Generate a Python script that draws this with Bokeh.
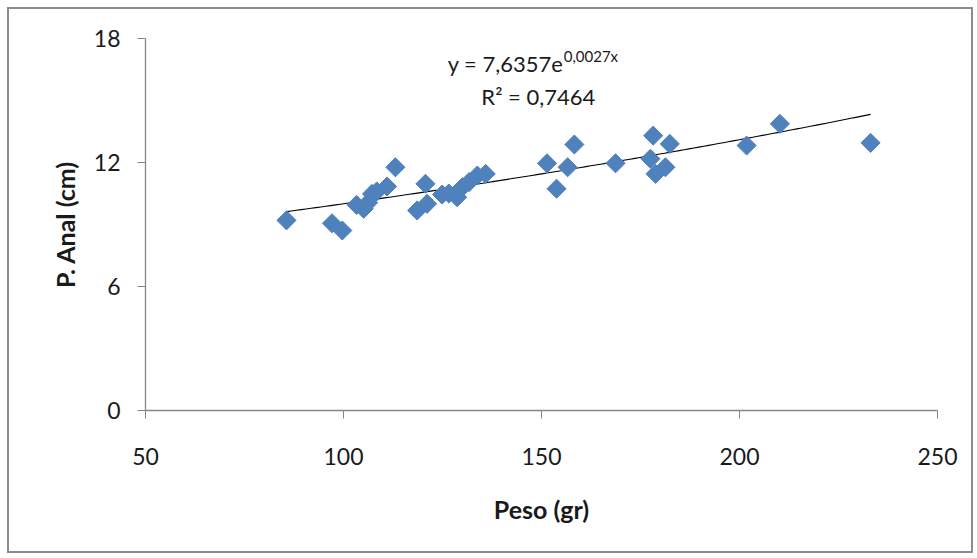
import numpy as np
from bokeh.plotting import figure
from bokeh.models import Label, FixedTicker, Range1d
from bokeh.embed import file_html
from bokeh.resources import INLINE

# Fish weight (g) and anal length (cm)
peso = [85.6, 97.1, 99.7, 103.3, 105.1, 106.2, 107.2, 108.4, 111.0, 113.1,
        118.6, 120.7, 121.1, 124.9, 126.6, 128.7, 130.0, 131.7, 133.8, 135.9,
        151.4, 153.8, 156.6, 158.3, 168.7, 177.5, 178.2, 178.8, 181.3, 182.4,
        201.8, 210.2, 233.1]
anal = [9.2, 9.06, 8.71, 9.95, 9.76, 10.05, 10.48, 10.6, 10.84, 11.77,
        9.68, 10.97, 10.0, 10.45, 10.5, 10.32, 10.8, 11.05, 11.37, 11.45,
        11.96, 10.73, 11.77, 12.87, 11.96, 12.18, 13.3, 11.45, 11.77, 12.9,
        12.82, 13.87, 12.95]

x_ticks = [50, 100, 150, 200, 250]
y_ticks = [0, 6, 12, 18]

# Exponential trend y = a * e^(b x)
fit_a = 7.6357
fit_b = 0.0027
fit_r2 = "0,7464"

FONT = "Lato"
TXT = "#1a1a1a"
AXIS = "#868686"

# chart area sits inside a thin grey frame
p = figure(width=966, height=546, output_backend="svg", toolbar_location=None,
           x_range=Range1d(50, 250), y_range=Range1d(0, 18),
           min_border_left=136, min_border_right=38,
           min_border_top=29, min_border_bottom=145,
           margin=(7, 0, 0, 7),
           styles={"border": "2px solid #8c8c8c"})
p.outline_line_color = None
p.grid.visible = False
p.background_fill_color = "white"
p.border_fill_color = "white"

# trend line over the observed weight range
xs = np.linspace(min(peso), max(peso), 120)
p.line(xs, fit_a * np.exp(fit_b * xs), line_color="black", line_width=1.1)

# diamond markers (rotated squares)
p.scatter(peso, anal, marker="square", size=13.5, angle=np.pi / 4,
          fill_color="#4F81BD", line_color="#4F81BD")

for ax in (p.xaxis[0], p.yaxis[0]):
    ax.axis_line_color = AXIS
    ax.axis_line_width = 1.3
    ax.major_tick_line_color = AXIS
    ax.major_tick_out = 8
    ax.major_tick_in = 0
    ax.minor_tick_line_color = None
    ax.major_label_text_font = FONT
    ax.major_label_text_font_size = "23px"
    ax.major_label_text_color = TXT
    ax.axis_label_text_font = FONT
    ax.axis_label_text_font_style = "bold"
    ax.axis_label_text_font_size = "25px"
    ax.axis_label_text_color = TXT

p.xaxis.ticker = FixedTicker(ticks=x_ticks)
p.yaxis.ticker = FixedTicker(ticks=y_ticks)
p.xaxis.axis_label = "Peso (gr)"
p.yaxis.axis_label = "P. Anal (cm)"
p.xaxis.major_label_standoff = 29
p.yaxis.major_label_standoff = 17
p.xaxis.axis_label_standoff = 26
p.yaxis.axis_label_standoff = 11

# fitted equation
eq_main = Label(x=126.3, y=16.8, text="y = 7,6357e", text_font=FONT,
                text_font_size="22px", text_color=TXT,
                text_align="left", text_baseline="middle")
eq_exp = Label(x=155.6, y=17.15, text="0,0027x", text_font=FONT,
               text_font_size="15px", text_color=TXT,
               text_align="left", text_baseline="middle")
eq_r2 = Label(x=149.2, y=15.2, text="R\u00b2 = " + fit_r2, text_font=FONT,
              text_font_size="22px", text_color=TXT,
              text_align="center", text_baseline="middle")
for lab in (eq_main, eq_exp, eq_r2):
    p.add_layout(lab)

open("out.html", "w").write(file_html(p, INLINE))
